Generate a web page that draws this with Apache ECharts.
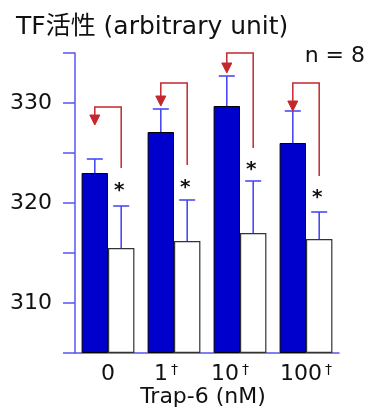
<!DOCTYPE html>
<html>
<head>
<meta charset="utf-8">
<script src="https://cdn.jsdelivr.net/npm/echarts@6/dist/echarts.min.js"></script>
<style>
html,body{margin:0;padding:0;background:#fff;}
#chart{width:374px;height:409px;}
</style>
</head>
<body>
<div id="chart"></div>
<script>
// ---- data ----
const categories = ['0', '1', '10', '100'];
const daggerMarks = ['', '†', '†', '†'];
const controlMean = [323.0, 327.1, 329.7, 326.0];
const controlErrTop = [324.4, 329.4, 332.7, 329.2];
const trapMean = [315.5, 316.2, 317.0, 316.4];
const trapErrTop = [319.7, 320.3, 322.2, 319.1];
const arrowTop = [329.6, 332.0, 335.0, 332.0];
const arrowTip = [327.8, 329.7, 333.0, 329.2];
const arrowBottom = [323.5, 323.8, 325.5, 322.7];
const starValue = [321.7, 322.0, 323.8, 321.0];
const yTickLabels = [310, 320, 330];
const yMin = 305, yMax = 335, yStep = 5;

// ---- styles ----
const FONT = 'DejaVu Sans, "Noto Sans CJK SC", sans-serif';
const AXIS_BLUE = '#5656f0';
const ERR_BLUE = '#4a4af5';
const BAR_BLUE = '#0000cc';
const RED = '#c4282e';
// label nudges (style only): trailing spacer widths per category label
const LABEL_SPACER = ['', '{s16|}', '{s20|}', ''];

const chart = echarts.init(document.getElementById('chart'), null, {renderer: 'canvas'});

const errData = [];
categories.forEach((c, i) => {
  errData.push([i, controlMean[i], controlErrTop[i], -1]);
  errData.push([i, trapMean[i], trapErrTop[i], 1]);
});
const arrowData = categories.map((c, i) => [i, arrowTop[i], arrowTip[i], arrowBottom[i]]);
const starData = categories.map((c, i) => [i, starValue[i]]);

function barHalf(api) {
  const band = api.size([1, 0])[0];
  return band * 0.8 / 2;
}

chart.setOption({
  animation: false,
  textStyle: {fontFamily: FONT},
  title: [
    {text: 'TF活性 (arbitrary unit)', left: 11, top: 10,
     textStyle: {fontFamily: FONT, fontSize: 25, fontWeight: 'normal', color: '#111'}},
    {text: 'n = 8', right: 4, top: 40,
     textStyle: {fontFamily: FONT, fontSize: 22, fontWeight: 'normal', color: '#111'}}
  ],
  grid: {left: 75, right: 35, top: 53, bottom: 56, containLabel: false, outerBoundsMode: 'none'},
  xAxis: {
    type: 'category',
    data: categories,
    axisLine: {show: true, lineStyle: {color: AXIS_BLUE, width: 1.5}},
    axisTick: {show: false},
    axisLabel: {
      margin: 10,
      interval: 0,
      formatter: (v, idx) => (daggerMarks[idx] ? `{n|${v}}{d|${daggerMarks[idx]}}` : `{n|${v}}`) + LABEL_SPACER[idx],
      rich: {
        n: {fontFamily: FONT, fontSize: 22, color: '#111', lineHeight: 22},
        d: {fontFamily: FONT, fontSize: 14, color: '#111', verticalAlign: 'top', padding: [0, 0, 0, 3], lineHeight: 22},
        s16: {width: 16, lineHeight: 22},
        s20: {width: 20, lineHeight: 22}
      }
    },
    name: 'Trap-6 (nM)',
    nameLocation: 'middle',
    nameGap: 33,
    nameMoveOverlap: false,
    nameTextStyle: {fontFamily: FONT, fontSize: 22, color: '#111', padding: [0, 8, 0, 0], lineHeight: 22}
  },
  yAxis: {
    type: 'value',
    min: yMin, max: yMax, interval: yStep,
    startValue: yMin,
    splitLine: {show: false},
    axisLine: {show: true, lineStyle: {color: AXIS_BLUE, width: 1.5}},
    axisTick: {show: true, length: 12, inside: false, lineStyle: {color: AXIS_BLUE, width: 1.5}},
    axisLabel: {
      margin: 23,
      fontFamily: FONT, fontSize: 22, color: '#111',
      formatter: v => yTickLabels.includes(v) ? String(v) : ''
    }
  },
  series: [
    {
      type: 'bar', name: 'control', data: controlMean,
      barGap: '0%', barCategoryGap: '20%',
      itemStyle: {color: BAR_BLUE, borderColor: '#000', borderWidth: 1},
      z: 2
    },
    {
      type: 'bar', name: 'trap', data: trapMean,
      barGap: '0%', barCategoryGap: '20%',
      itemStyle: {color: '#fff', borderColor: '#333', borderWidth: 1.2},
      z: 2
    },
    {
      type: 'custom', name: 'err', data: errData, z: 3,
      renderItem: (params, api) => {
        const i = api.value(0);
        const base = api.coord([i, api.value(1)]);
        const top = api.coord([i, api.value(2)]);
        const half = barHalf(api);
        const x = base[0] + api.value(3) * half / 2;
        const st = {stroke: ERR_BLUE, lineWidth: 1.6};
        return {type: 'group', children: [
          {type: 'line', shape: {x1: x, y1: base[1], x2: x, y2: top[1]}, style: st},
          {type: 'line', shape: {x1: x - 8, y1: top[1], x2: x + 8, y2: top[1]}, style: st}
        ]};
      }
    },
    {
      type: 'custom', name: 'arrows', data: arrowData, z: 4,
      renderItem: (params, api) => {
        const i = api.value(0);
        const c = api.coord([i, api.value(1)]);
        const tip = api.coord([i, api.value(2)])[1];
        const bot = api.coord([i, api.value(3)])[1];
        const half = barHalf(api);
        const bx = c[0] - half / 2, wx = c[0] + half / 2;
        const ty = c[1];
        const ah = 10, aw = 5;
        return {type: 'group', children: [
          {type: 'polyline', shape: {points: [[wx, bot], [wx, ty], [bx, ty], [bx, tip - ah + 1]]},
           style: {stroke: RED, lineWidth: 1.5, fill: null}},
          {type: 'polygon', shape: {points: [[bx - aw, tip - ah], [bx + aw, tip - ah], [bx, tip]]},
           style: {fill: RED, stroke: RED, lineWidth: 1}}
        ]};
      }
    },
    {
      type: 'custom', name: 'stars', data: starData, z: 4,
      renderItem: (params, api) => {
        const i = api.value(0);
        const p = api.coord([i, api.value(1)]);
        const half = barHalf(api);
        return {type: 'text', x: p[0] + half / 2 - 2, y: p[1] + 5,
          style: {text: '*', fontFamily: FONT, fontSize: 20, fontWeight: 'bold', fill: '#111',
                  align: 'center', verticalAlign: 'middle'}};
      }
    }
  ]
});
</script>
</body>
</html>
